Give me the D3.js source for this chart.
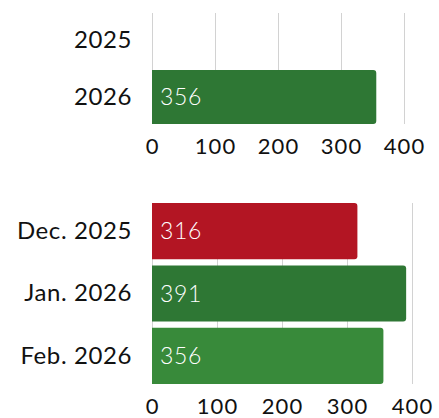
<!DOCTYPE html>
<html>
<head>
<meta charset="utf-8">
<script src="https://cdn.jsdelivr.net/npm/d3@7"></script>
<style>
  html, body { margin: 0; padding: 0; background: #fff; }
  svg { display: block; font-family: Lato, "Open Sans", sans-serif; }
</style>
</head>
<body>
<svg id="chart" width="439" height="418"></svg>
<script>
// Yearly total
const yearCategories = ["2025", "2026"];
const yearValues = [null, 356];

// Monthly totals
const monthCategories = ["Dec. 2025", "Jan. 2026", "Feb. 2026"];
const monthValues = [316, 391, 356];

const tickValues = [0, 100, 200, 300, 400];

// bar fill by category
const fills = {
  "2026": "#2e7734",
  "Dec. 2025": "#b31523",
  "Jan. 2026": "#2e7734",
  "Feb. 2026": "#388a3a"
};

const svg = d3.select("#chart");

// rectangle with rounded right-hand corners only
function barPath(x0, x1, y0, h, r) {
  r = Math.min(r, (x1 - x0), h / 2);
  return `M${x0},${y0}H${x1 - r}Q${x1},${y0} ${x1},${y0 + r}` +
         `V${y0 + h - r}Q${x1},${y0 + h} ${x1 - r},${y0 + h}H${x0}Z`;
}

function panel(cfg) {
  const g = svg.append("g");
  const x = d3.scaleLinear().domain([0, 400]).range(cfg.xRange);
  const y = d3.scaleBand().domain(cfg.categories).range(cfg.yRange)
    .paddingInner(cfg.padding).paddingOuter(0);

  // vertical gridlines
  const grid = g.append("g")
    .attr("transform", `translate(0,${cfg.yRange[1]})`)
    .call(d3.axisBottom(x).tickValues(tickValues)
      .tickSize(-(cfg.yRange[1] - cfg.yRange[0])).tickFormat(""));
  grid.select(".domain").remove();
  grid.selectAll(".tick line").attr("stroke", "#d2d2d2").attr("stroke-width", 1);

  // bars
  const rows = cfg.categories.map((c, i) => ({ cat: c, value: cfg.values[i] }))
    .filter(d => d.value != null);
  g.selectAll("path.bar").data(rows).join("path")
    .attr("class", "bar")
    .attr("fill", d => fills[d.cat])
    .attr("d", d => barPath(x(0), x(d.value), y(d.cat), y.bandwidth(), 3));

  // value labels inside bars
  g.selectAll("text.val").data(rows).join("text")
    .attr("class", "val")
    .attr("x", x(0) + 8)
    .attr("y", d => y(d.cat) + y.bandwidth() / 2)
    .attr("dy", "0.35em")
    .attr("fill", "#fff")
    .attr("font-size", 23)
    .attr("font-weight", 300)
    .attr("letter-spacing", 0.6)
    .text(d => d.value);

  // category labels
  const yAxis = g.append("g")
    .attr("transform", `translate(${cfg.xRange[0]},0)`)
    .call(d3.axisLeft(y).tickSize(0).tickPadding(20));
  yAxis.select(".domain").remove();
  yAxis.selectAll("text")
    .attr("font-size", 24)
    .attr("fill", "#111")
    .attr("font-family", "Lato, sans-serif")
    .attr("letter-spacing", 0.6);

  // value axis labels
  const xAxis = g.append("g")
    .attr("transform", `translate(0,${cfg.tickY})`)
    .call(d3.axisBottom(x).tickValues(tickValues).tickSize(0).tickPadding(0));
  xAxis.select(".domain").remove();
  xAxis.selectAll("text")
    .attr("font-size", 22)
    .attr("fill", "#111")
    .attr("font-family", "Lato, sans-serif")
    .attr("letter-spacing", 1)
    .attr("dy", "0.35em")
    .attr("y", 0);
}

panel({
  categories: yearCategories, values: yearValues,
  xRange: [152, 404], yRange: [13, 124], padding: 0.05, tickY: 146
});

panel({
  categories: monthCategories, values: monthValues,
  xRange: [152, 412], yRange: [203, 384], padding: 0.1, tickY: 406
});
</script>
</body>
</html>
